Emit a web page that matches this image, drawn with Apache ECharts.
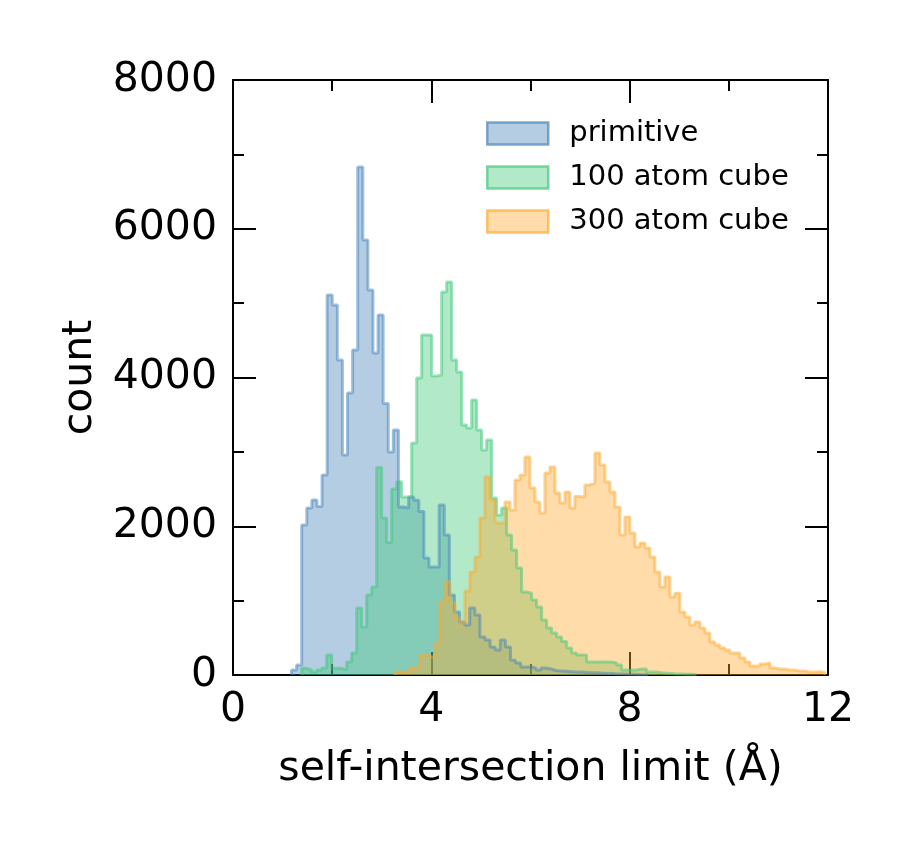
<!DOCTYPE html>
<html>
<head>
<meta charset="utf-8">
<script src="https://cdn.jsdelivr.net/npm/echarts@6/dist/echarts.min.js"></script>
<style>
  html, body { margin: 0; padding: 0; background: #fff; }
  #chart { width: 909px; height: 855px; }
</style>
</head>
<body>
<div id="chart"></div>
<script>
// bin layout of each histogram (Å)
const primitiveStart = 1.180;
const primitiveWidth = 0.1027;
const primitiveCounts = [
  67, 134, 2017, 2245, 2353, 2265, 2689, 5109, 4975, 4235,
  2958, 3792, 4370, 6830, 5849, 5176, 4329, 4840, 3650, 2998,
  3294, 2260, 2245, 2393, 2350, 2200, 1573, 1452, 1452, 2286,
  1882, 1075, 847, 713, 672, 900, 807, 511, 470, 376,
  336, 470, 376, 200, 161, 108, 108, 94, 67, 94,
  80, 60, 55, 50, 45, 40, 40, 35, 30, 30,
  25, 20, 20, 15, 15, 10, 10, 8, 5, 5
];

const cube100Start = 1.3856;
const cube100Width = 0.1008;
const cube100Counts = [
  90, 67, 40, 67, 94, 269, 90, 90, 67, 175,
  296, 900, 645, 1075, 1183, 2790, 2111, 1780, 2500, 2600,
  2393, 2393, 3120, 3993, 4571, 4571, 4020, 4034, 5150, 5284,
  4235, 4074, 3361, 3321, 3697, 3294, 3025, 3160, 2380, 2150,
  2245, 1882, 1680, 1438, 1116, 1100, 1008, 914, 740, 632,
  565, 510, 450, 363, 296, 269, 269, 175, 175, 175,
  175, 175, 161, 134, 67, 67, 67, 80, 80, 40,
  40, 30, 25, 20, 15, 15, 10, 10, 5
];

const cube300Start = 3.2672;
const cube300Width = 0.1008;
const cube300Counts = [
  40, 40, 40, 94, 94, 269, 269, 242, 430, 981,
  1250, 968, 766, 699, 1130, 1385, 1587, 2111, 2662, 2353,
  2044, 2044, 2326, 2218, 2622, 2689, 2931, 2514, 2326, 2178,
  2716, 2797, 2447, 2313, 2460, 2245, 2400, 2393, 2555, 2581,
  2985, 2824, 2595, 2460, 2259, 1882, 2124, 1909, 1721, 1775,
  1708, 1587, 1385, 1183, 1318, 1049, 1100, 847, 780, 672,
  713, 632, 565, 444, 403, 363, 336, 296, 296, 229,
  175, 121, 121, 148, 161, 94, 81, 81, 67, 67,
  54, 54, 40, 40, 45, 35
];

const seriesNames = ['primitive', '100 atom cube', '300 atom cube'];
const baseColors = ['70,130,185', '60,200,120', '255,168,42'];

// polygon points for a stepfilled histogram
function stepPoints(start, width, counts) {
  const pts = [[start, 0]];
  counts.forEach((c, i) => pts.push([start + i * width, c]));
  pts.push([start + counts.length * width, 0]);
  return pts;
}

const hists = [
  stepPoints(primitiveStart, primitiveWidth, primitiveCounts),
  stepPoints(cube100Start, cube100Width, cube100Counts),
  stepPoints(cube300Start, cube300Width, cube300Counts)
];

const font = 'DejaVu Sans';
const fill = rgb => 'rgba(' + rgb + ',0.4)';
const edge = rgb => 'rgba(' + rgb + ',0.5)';
const legendEdge = rgb => 'rgba(' + rgb + ',0.68)';

function axisBase(extra) {
  return Object.assign({
    type: 'value',
    axisLine: { show: true, onZero: false, lineStyle: { color: '#000', width: 2 } },
    axisTick: { show: true, inside: true, length: 23, lineStyle: { color: '#000', width: 2 } },
    minorTick: { show: true, splitNumber: 2, length: 11, lineStyle: { color: '#000', width: 2 } },
    splitLine: { show: false },
    minorSplitLine: { show: false }
  }, extra);
}

const labelStyle = { show: true, color: '#000', fontFamily: font, fontSize: 41, formatter: v => String(v) };
const nameStyle = { fontFamily: font, fontSize: 41, color: '#000' };

const chart = echarts.init(document.getElementById('chart'));
chart.setOption({
  animation: false,
  backgroundColor: '#fff',
  grid: { left: 233, top: 80, width: 595, height: 595, containLabel: false },
  legend: {
    orient: 'vertical',
    left: 481,
    top: 114,
    itemWidth: 61,
    itemHeight: 22,
    itemGap: 15,
    selectedMode: false,
    textStyle: { fontFamily: font, fontSize: 29, color: '#000', lineHeight: 22, padding: [0, 0, 0, 16] },
    data: seriesNames.map((n, i) => ({
      name: n,
      icon: 'rect',
      itemStyle: { color: fill(baseColors[i]), borderColor: legendEdge(baseColors[i]), borderWidth: 2.5 }
    }))
  },
  xAxis: [
    axisBase({
      position: 'bottom', min: 0, max: 12, interval: 4,
      axisLabel: Object.assign({ margin: 15 }, labelStyle),
      name: 'self-intersection limit (Å)',
      nameLocation: 'middle',
      nameGap: 74,
      nameTextStyle: nameStyle
    }),
    axisBase({ position: 'top', min: 0, max: 12, interval: 4, axisLabel: { show: false } })
  ],
  yAxis: [
    axisBase({
      position: 'left', min: 0, max: 8000, interval: 2000,
      axisLabel: Object.assign({ margin: 16 }, labelStyle),
      name: 'count',
      nameLocation: 'middle',
      nameGap: 132,
      nameTextStyle: nameStyle
    }),
    axisBase({ position: 'right', min: 0, max: 8000, interval: 2000, axisLabel: { show: false } })
  ],
  series: hists.map((pts, i) => ({
    name: seriesNames[i],
    type: 'line',
    step: 'end',
    data: pts,
    xAxisIndex: 0,
    yAxisIndex: 0,
    symbol: 'none',
    silent: true,
    itemStyle: { color: fill(baseColors[i]) },
    lineStyle: { color: edge(baseColors[i]), width: 3 },
    areaStyle: { color: fill(baseColors[i]), opacity: 1 }
  }))
});
</script>
</body>
</html>
